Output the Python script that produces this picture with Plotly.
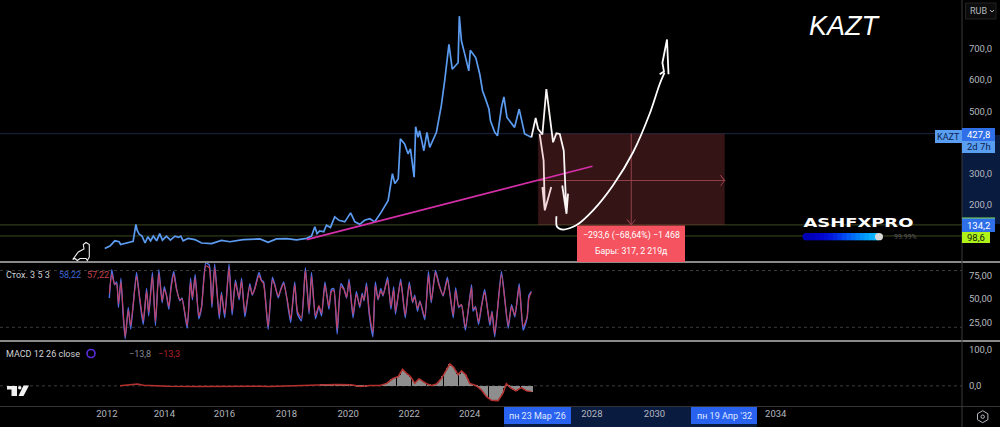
import plotly.graph_objects as go

# Price pane (KAZT, weekly close)
price_years = [2011.93, 2012.10, 2012.26, 2012.40, 2012.45, 2012.59, 2012.86, 2012.95, 2012.99, 2013.06,
               2013.15, 2013.25, 2013.34, 2013.43, 2013.52, 2013.63, 2013.73, 2013.82, 2013.95, 2014.08,
               2014.23, 2014.35, 2014.42, 2014.50, 2014.66, 2014.88, 2015.10, 2015.43, 2015.75, 2016.03,
               2016.46, 2017.01, 2017.28, 2017.55, 2017.88, 2018.21, 2018.54, 2018.70, 2018.81, 2018.88,
               2018.97, 2019.10, 2019.19, 2019.32, 2019.46, 2019.60, 2019.79, 2019.98, 2020.12, 2020.28,
               2020.44, 2020.61, 2020.77, 2020.99, 2021.21, 2021.35, 2021.43, 2021.54, 2021.61, 2021.75,
               2021.86, 2021.94, 2022.06, 2022.11, 2022.19, 2022.24, 2022.38, 2022.48, 2022.57, 2022.79,
               2022.95, 2023.06, 2023.14, 2023.20, 2023.31, 2023.50, 2023.54, 2023.61, 2023.72, 2023.85,
               2023.90, 2024.08, 2024.21, 2024.30, 2024.40, 2024.51, 2024.56, 2024.70, 2024.79, 2024.92,
               2025.00, 2025.10, 2025.35, 2025.50, 2025.68, 2025.90]
price_values = [58, 66, 83, 80, 71, 74, 81, 136, 117, 104,
                98, 76, 96, 83, 98, 83, 106, 85, 98, 85,
                98, 94, 98, 83, 91, 87, 76, 74, 84, 80,
                87, 89, 78, 89, 90, 86, 91, 98, 128, 106,
                115, 112, 133, 126, 160, 149, 144, 173, 144, 136,
                149, 154, 144, 176, 213, 299, 267, 283, 411, 395,
                363, 379, 288, 450, 416, 437, 373, 432, 384, 432,
                518, 598, 672, 715, 635, 656, 806, 726, 683, 630,
                696, 672, 619, 566, 539, 507, 469, 432, 421, 512,
                546, 480, 448, 507, 427, 416]

price_ticks = [200, 300, 500, 600, 700]
price_labels = ["200,0", "300,0", "500,0", "600,0", "700,0"]
last_price = 427.8
level_top = 134.2
level_low = 98.6

# Trendline and hand drawn arrows
trend_years = [2018.54, 2027.90]
trend_values = [87, 323]
sketch1_years = [2025.90, 2026.04, 2026.12, 2026.26, 2026.39, 2026.50, 2026.61, 2026.72, 2026.83, 2026.96, 2027.02, 2027.05, 2026.91, 2027.05, 2027.10]
sketch1_values = [416, 478, 443, 425, 571, 491, 400, 429, 427, 373, 256, 170, 261, 170, 235]
sketch2_years = [2026.17, 2026.30, 2026.34, 2026.26, 2026.34, 2026.55]
sketch2_values = [427, 341, 181, 256, 181, 256]
sketch3_years = [2026.72, 2026.74, 2026.94, 2027.37, 2027.92, 2028.57, 2029.23, 2029.77, 2030.10, 2030.26]
sketch3_values = [162, 128, 119, 133, 181, 261, 368, 491, 587, 624]
head3_years = [2030.10, 2030.24, 2030.19, 2030.34, 2030.39]
head3_values = [619, 628, 656, 731, 619]

# Measure tool
measure_start = 2026.12
measure_end = 2032.23
measure_mid_year = 2029.17
measure_mid_value = 277

# Stochastic pane
stoch_years = [2012.08, 2012.16, 2012.25, 2012.32, 2012.38, 2012.46, 2012.53, 2012.60, 2012.70, 2012.78,
               2012.97, 2013.08, 2013.19, 2013.30, 2013.37, 2013.49, 2013.59, 2013.70, 2013.81, 2013.88,
               2013.95, 2014.03, 2014.10, 2014.19, 2014.28, 2014.39, 2014.46, 2014.63, 2014.74, 2014.80,
               2014.89, 2015.01, 2015.10, 2015.24, 2015.35, 2015.44, 2015.53, 2015.68, 2015.75, 2015.86,
               2016.00, 2016.10, 2016.21, 2016.33, 2016.41, 2016.52, 2016.68, 2016.76, 2016.84, 2016.98,
               2017.06, 2017.13, 2017.28, 2017.42, 2017.50, 2017.61, 2017.70, 2017.79, 2017.90, 2018.02,
               2018.15, 2018.24, 2018.37, 2018.50, 2018.62, 2018.70, 2018.83, 2018.94, 2019.03, 2019.14,
               2019.27, 2019.35, 2019.43, 2019.54, 2019.66, 2019.76, 2019.85, 2019.93, 2020.06, 2020.17,
               2020.28, 2020.36, 2020.42, 2020.50, 2020.59, 2020.71, 2020.79, 2020.88, 2020.97, 2021.04,
               2021.19, 2021.30, 2021.39, 2021.45, 2021.62, 2021.77, 2021.90, 2022.01, 2022.08, 2022.17,
               2022.25, 2022.41, 2022.53, 2022.62, 2022.76, 2022.88, 2023.01, 2023.15, 2023.34, 2023.42,
               2023.52, 2023.61, 2023.74, 2023.94, 2023.99, 2024.07, 2024.17, 2024.26, 2024.37, 2024.54,
               2024.61, 2024.70, 2024.92, 2025.14, 2025.25, 2025.36, 2025.50, 2025.63, 2025.76, 2025.82, 2025.90]
stoch_k = [51, 81, 65, 68, 41, 72, 34, 8, 41, 18,
           78, 48, 23, 61, 32, 78, 22, 81, 46, 63,
           54, 39, 63, 79, 61, 48, 51, 19, 72, 49,
           76, 29, 41, 88, 86, 41, 87, 29, 57, 30,
           87, 33, 70, 49, 72, 31, 66, 54, 61, 78,
           70, 68, 18, 73, 65, 51, 61, 68, 49, 25,
           68, 34, 27, 83, 34, 78, 29, 42, 32, 68,
           39, 60, 61, 13, 66, 61, 51, 71, 30, 58,
           41, 56, 48, 67, 34, 10, 68, 49, 61, 53,
           73, 39, 63, 34, 71, 30, 68, 46, 54, 37,
           48, 28, 79, 46, 80, 65, 53, 73, 30, 62,
           41, 44, 17, 65, 37, 42, 23, 41, 60, 22,
           37, 10, 79, 19, 44, 31, 66, 17, 30, 54, 58]
stoch_d = [56, 76, 66, 66, 45, 68, 38, 10, 38, 22,
           74, 50, 27, 58, 36, 74, 26, 77, 48, 60,
           54, 42, 61, 76, 60, 49, 50, 22, 68, 51,
           72, 32, 42, 85, 83, 45, 83, 33, 55, 34,
           83, 37, 67, 51, 69, 35, 64, 55, 60, 75,
           69, 66, 21, 70, 64, 53, 60, 66, 50, 29,
           65, 37, 30, 80, 37, 74, 32, 43, 35, 65,
           42, 58, 59, 18, 63, 60, 52, 68, 34, 55,
           43, 54, 49, 64, 37, 15, 64, 50, 59, 54,
           70, 42, 60, 37, 68, 33, 65, 47, 52, 40,
           47, 31, 75, 48, 78, 64, 54, 70, 33, 59,
           42, 44, 20, 62, 40, 41, 26, 41, 57, 25,
           36, 13, 76, 22, 42, 33, 63, 21, 31, 51, 57]
stoch_ticks = [25, 50, 75]
stoch_labels = ["25,00", "50,00", "75,00"]

# MACD pane
macd_years = [2012.43, 2013.00, 2013.20, 2014.00, 2015.00, 2016.00, 2017.00, 2017.30, 2018.00, 2018.70,
              2019.00, 2019.50, 2020.00, 2020.30, 2020.61, 2020.94, 2021.16, 2021.37, 2021.54, 2021.68,
              2021.81, 2021.94, 2022.08, 2022.22, 2022.36, 2022.49, 2022.63, 2022.79, 2022.96, 2023.10,
              2023.23, 2023.36, 2023.50, 2023.61, 2023.75, 2023.88, 2024.08, 2024.26, 2024.43, 2024.59,
              2024.81, 2024.97, 2025.08, 2025.21, 2025.39, 2025.57, 2025.74, 2025.90]
macd_signal = [0, 5, 2, -1, -2, -1, -1, -2, 0, 1,
               3, 4, 3, -2, 1, 1, 7, 21, 26, 46,
               35, 26, 7, 20, 12, 5, 1, 5, 21, 44,
               61, 51, 31, 42, 31, 7, 1, -11, -30, -40,
               -41, -20, 6, -5, -14, -5, -14, -16]
hist_years = [2019.00, 2019.07, 2019.14, 2019.21, 2019.28, 2019.35, 2019.42, 2019.49, 2019.56, 2019.63,
              2019.70, 2019.77, 2019.84, 2019.91, 2019.98, 2020.05, 2020.12, 2020.19, 2020.26, 2020.33,
              2020.40, 2020.47, 2020.54, 2020.61, 2020.68, 2020.75, 2020.82, 2020.89, 2020.96, 2021.03,
              2021.10, 2021.17, 2021.24, 2021.31, 2021.38, 2021.45, 2021.52, 2021.59, 2021.66, 2021.73,
              2021.80, 2021.87, 2021.94, 2022.01, 2022.08, 2022.15, 2022.22, 2022.29, 2022.36, 2022.43,
              2022.50, 2022.57, 2022.64, 2022.71, 2022.78, 2022.85, 2022.92, 2022.99, 2023.06, 2023.13,
              2023.20, 2023.27, 2023.34, 2023.41, 2023.48, 2023.55, 2023.62, 2023.69, 2023.76, 2023.83,
              2023.90, 2023.97, 2024.04, 2024.11, 2024.18, 2024.25, 2024.32, 2024.39, 2024.46, 2024.53,
              2024.60, 2024.67, 2024.74, 2024.81, 2024.88, 2024.95, 2025.02, 2025.09, 2025.16, 2025.23,
              2025.30, 2025.37, 2025.44, 2025.51, 2025.58, 2025.65, 2025.72, 2025.79, 2025.86, 2025.93]
hist_values = [3, 3, 4, 4, 4, 5, 4, 4, 3, 3,
               3, 4, 3, 3, 2, 2, 1, -1, -3, -3,
               -2, -1, 0, 0, 0, 1, 1, 1, 2, 3,
               5, 7, 12, 18, 22, 23, 26, 30, 44, 42,
               36, 31, 26, 17, 8, 14, 20, 16, 12, 8,
               5, 3, 2, 3, 5, 9, 16, 27, 38, 49,
               60, 56, 52, 44, 34, 32, 42, 36, 30, 18,
               7, 3, 2, -2, -6, -11, -18, -25, -32, -37,
               -41, -42, -43, -42, -34, -24, -6, 4, -2, -7,
               -11, -14, -13, -8, -6, -9, -13, -15, -16, -16]
macd_ticks = [0, 100]
macd_labels = ["0,0", "100,0"]

# the source scale snaps its year labels, so these sit where the picture has them
time_ticks = [2012.0, 2013.88, 2015.85, 2017.88, 2019.9, 2021.9, 2023.88, 2027.88, 2029.93, 2033.9]
time_labels = ["2012", "2014", "2016", "2018", "2020", "2022", "2024", "2028", "2030", "2034"]

GRAD_COLORS = ["#0000b4", "#0000bc", "#0002c4", "#0006cc", "#000ed4", "#0018dc", "#0026e4", "#0036ea",
               "#0048f0", "#005af4", "#006cf6", "#007ef8", "#0090fa", "#00a0fc", "#08aefe", "#10b8ff"]
FONT = "Roboto"
AXIS_GREY = "#b4b7bf"
BLUE = "#2f6fe8"


def px(x):
    return x / 1000


def py(y):
    return 1 - y / 427


def label(fig, x, y, text, color=AXIS_GREY, size=9.5, anchor="left", family=FONT, **kw):
    fig.add_annotation(xref="paper", yref="paper", x=px(x), y=py(y), text=text, showarrow=False,
                       xanchor=anchor, yanchor="middle", font=dict(family=family, size=size, color=color), **kw)


def box(fig, x0, y0, x1, y1, fill, line=None, layer="above"):
    fig.add_shape(type="rect", xref="paper", yref="paper", x0=px(x0), x1=px(x1), y0=py(y0), y1=py(y1),
                  fillcolor=fill, line=dict(color=line or fill, width=1 if line else 0), layer=layer)


def pixel_path(points, close=False):
    d = "M " + " L ".join(f"{px(a):.4f},{py(b):.4f}" for a, b in points)
    return d + (" Z" if close else "")


fig = go.Figure()

# measure tool background first
fig.add_shape(type="rect", x0=measure_start, x1=measure_end, y0=level_top, y1=last_price, xref="x", yref="y",
              fillcolor="rgba(140,52,58,0.38)", line=dict(width=0), layer="below")
for val, col in [(last_price, "#1c2740"), (level_top, "#3d4a22"), (level_low, "#3d4a22")]:
    fig.add_shape(type="line", xref="x domain", yref="y", x0=0, x1=1, y0=val, y1=val,
                  line=dict(color=col, width=1), layer="below")
for ref, val in [("y2", 80), ("y2", 20), ("y3", 0)]:
    fig.add_shape(type="line", xref="x domain", yref=ref, x0=0, x1=1, y0=val, y1=val,
                  line=dict(color="#3c3c3c", width=1, dash="dot"), layer="below")

fig.add_trace(go.Scatter(x=[measure_start, measure_end, measure_end - 0.14, measure_end, measure_end - 0.14],
                         y=[measure_mid_value, measure_mid_value, measure_mid_value + 17, measure_mid_value, measure_mid_value - 17],
                         mode="lines", line=dict(color="#93404a", width=1)))
fig.add_trace(go.Scatter(x=[measure_mid_year, measure_mid_year, measure_mid_year - 0.13, measure_mid_year, measure_mid_year + 0.13],
                         y=[last_price, level_top, level_top + 17, level_top, level_top + 17],
                         mode="lines", line=dict(color="#93404a", width=1)))

fig.add_trace(go.Scatter(x=price_years, y=price_values, mode="lines", line=dict(color="#5b9bf0", width=1.7)))
fig.add_trace(go.Scatter(x=trend_years, y=trend_values, mode="lines", line=dict(color="#d42fa8", width=1.7)))
fig.add_trace(go.Scatter(x=sketch2_years, y=sketch2_values, mode="lines", line=dict(color="#f3d9dc", width=1.8)))
fig.add_trace(go.Scatter(x=sketch1_years, y=sketch1_values, mode="lines", line=dict(color="#fbf4f4", width=1.8)))
fig.add_trace(go.Scatter(x=sketch3_years, y=sketch3_values, mode="lines",
                         line=dict(color="#ffffff", width=1.8, shape="spline", smoothing=0.8)))
fig.add_trace(go.Scatter(x=head3_years, y=head3_values, mode="lines", line=dict(color="#ffffff", width=1.8)))

# stochastic
fig.add_trace(go.Scatter(x=stoch_years, y=stoch_k, yaxis="y2", mode="lines",
                         line=dict(color="#4f6fe6", width=1.4, shape="spline", smoothing=0.5)))
fig.add_trace(go.Scatter(x=stoch_years, y=stoch_d, yaxis="y2", mode="lines",
                         line=dict(color="#c8405f", width=1.1, shape="spline", smoothing=0.5)))

# macd
fig.add_trace(go.Bar(x=hist_years, y=hist_values, yaxis="y3", width=0.036, marker=dict(color="#8e8e8e", line=dict(width=0))))
fig.add_trace(go.Scatter(x=macd_years, y=macd_signal, yaxis="y3", mode="lines", line=dict(color="#b5312f", width=1.5)))

# right and bottom scale highlights
box(fig, 962, 135, 1000, 224, "#0a1b40", layer="below")
box(fig, 504, 407, 757, 427, "#0a1b40", layer="below")

# pane separators
for y in (262, 341):
    fig.add_shape(type="line", xref="paper", yref="paper", x0=0, x1=1, y0=py(y), y1=py(y), line=dict(color="#8a8a8a", width=2))
fig.add_shape(type="line", xref="paper", yref="paper", x0=0, x1=1, y0=py(406.5), y1=py(406.5), line=dict(color="#333333", width=1))
fig.add_shape(type="line", xref="paper", yref="paper", x0=px(962), x1=px(962), y0=0, y1=1, line=dict(color="#3a3a3a", width=1))

# top corner
fig.add_shape(type="rect", xref="paper", yref="paper", x0=px(965.5), x1=px(996), y0=py(3), y1=py(19),
              fillcolor="#0c0c0c", line=dict(color="#222222", width=1))
label(fig, 968, 11, "RUB", size=9)
fig.add_shape(type="path", xref="paper", yref="paper", path=pixel_path([(990, 10), (992, 12), (994, 10)]),
              line=dict(color=AXIS_GREY, width=1))

label(fig, 845, 26, "<i>KAZT</i>", color="#ffffff", size=27, anchor="center", family="Liberation Sans")

# price scale tags
box(fig, 935, 130, 962, 143, "#5a9ef2")
label(fig, 948.5, 136.5, "KAZT", color="#0a2350", size=9, anchor="center")
box(fig, 962, 128, 995, 141, BLUE)
label(fig, 978.5, 134.5, "427,8", color="#ffffff", anchor="center")
box(fig, 962, 141, 995, 153, "#5a9ef2")
label(fig, 978.5, 147, "2d 7h", color="#0a2350", anchor="center")
box(fig, 962, 218, 995, 232, BLUE)
fig.add_shape(type="line", xref="paper", yref="paper", x0=px(962), x1=px(995), y0=py(218), y1=py(218), line=dict(color="#7fe05a", width=1))
label(fig, 978.5, 225, "134,2", color="#ffffff", anchor="center")
box(fig, 962, 232, 990, 243, "#aef21a")
label(fig, 976, 237.5, "98,6", color="#10200a", anchor="center")

# measure result box
box(fig, 577, 225.5, 685, 262, "#f4535f")
label(fig, 631, 236, "−293,6 (−68,64%) −1 468", color="#ffffff", size=8.8, anchor="center")
label(fig, 631, 251, "Бары: 317, 2 219д", color="#ffffff", size=8.8, anchor="center")

# watermark block, the text gets stretched to the width of the bar block after drawing
label(fig, 858, 222.5, "<b>ASHFXPRO</b>", color="#ffffff", size=12.5, anchor="center", family="DejaVu Sans")
step = 72 / len(GRAD_COLORS)
fig.add_shape(type="circle", xref="paper", yref="paper", x0=px(802.5), x1=px(809.5), y0=py(233), y1=py(240.3),
              fillcolor=GRAD_COLORS[0], line=dict(width=0))
for i, col in enumerate(GRAD_COLORS):
    box(fig, 806 + i * step, 233, 806 + (i + 1) * step + 0.5, 240.3, col)
fig.add_shape(type="circle", xref="paper", yref="paper", x0=px(875), x1=px(883), y0=py(233), y1=py(240.3),
              fillcolor="#d8d8d8", line=dict(width=0))
label(fig, 892, 237, "99.99%", color="#5a5a5a", size=7)

# pane legends
label(fig, 4, 274.5, "Стох. 3 5 3", color="#d0d2d8", size=9)
label(fig, 57, 274.5, "58,22", color="#3f66d8", size=9)
label(fig, 85, 274.5, "57,22", color="#c8404f", size=9)
label(fig, 4, 353.5, "MACD 12 26 close", color="#d0d2d8", size=9)
fig.add_shape(type="circle", xref="paper", yref="paper", x0=px(87), x1=px(95), y0=py(349.5), y1=py(357.5),
              line=dict(color="#5a2ee0", width=1.6))
label(fig, 127, 353.5, "−13,8", color="#8a8d95", size=9)
label(fig, 156, 353.5, "−13,3", color="#b3202c", size=9)

# selected dates on the time scale
box(fig, 504, 407, 571, 424, "#2a62f0")
label(fig, 537.5, 416, "пн 23 Мар '26", color="#dfe8ff", size=9, anchor="center")
box(fig, 691, 407, 757, 424, "#2a62f0")
label(fig, 724, 416, "пн 19 Апр '32", color="#dfe8ff", size=9, anchor="center")

# little drawings: dino, TV logo, settings gear
dino = [(72.7, 259.5), (78.3, 252), (84, 249), (83.3, 244.5), (86, 242.5), (89.3, 244.5), (89.3, 257), (87.3, 260.5),
        (86, 258.5), (80, 258.5), (77.3, 260.5), (75, 258.5), (72.7, 259.5)]
fig.add_shape(type="path", xref="paper", yref="paper", path=pixel_path(dino), line=dict(color="#f0f0f0", width=1.1))
tv_shapes = [
    [(7, 386), (17, 386), (17, 396), (11.5, 396), (11.5, 389.5), (7, 389.5)],
    [(23.5, 385.5), (29, 385.5), (23.5, 396), (18.5, 396)],
]
for pts in tv_shapes:
    fig.add_shape(type="path", xref="paper", yref="paper", path=pixel_path(pts, close=True),
                  fillcolor="#f2f2f2", line=dict(width=0))
fig.add_shape(type="circle", xref="paper", yref="paper", x0=px(18), x1=px(21.5), y0=py(386), y1=py(389.5),
              fillcolor="#f2f2f2", line=dict(width=0))
gear = [(982.7, 410.7), (987.9, 413.7), (987.9, 419.7), (982.7, 422.7), (977.5, 419.7), (977.5, 413.7)]
fig.add_shape(type="path", xref="paper", yref="paper", path=pixel_path(gear, close=True), line=dict(color=AXIS_GREY, width=1))
fig.add_shape(type="circle", xref="paper", yref="paper", x0=px(981), x1=px(984.4), y0=py(415), y1=py(418.4),
              line=dict(color=AXIS_GREY, width=1))

tick_style = dict(showgrid=False, zeroline=False, showline=False, ticklen=4, tickcolor="rgba(0,0,0,0)", ticks="outside",
                  side="right", anchor="x", tickmode="array", tickfont=dict(family=FONT, size=9.5, color=AXIS_GREY))

fig.update_layout(
    width=1000, height=427, margin=dict(l=0, r=0, t=0, b=0),
    paper_bgcolor="#000000", plot_bgcolor="#000000", showlegend=False, bargap=0,
    xaxis=dict(domain=[0, 0.962], range=[2008.5, 2040.0], anchor="y3", showgrid=False, zeroline=False, showline=False,
               tickmode="array", tickvals=time_ticks, ticktext=time_labels, ticks="",
               tickfont=dict(family=FONT, size=9.5, color=AXIS_GREY)),
    yaxis=dict(domain=[py(261), 1], range=[18, 858], tickvals=price_ticks, ticktext=price_labels, **tick_style),
    yaxis2=dict(domain=[py(340), py(263)], range=[6.6, 88], tickvals=stoch_ticks, ticktext=stoch_labels, **tick_style),
    yaxis3=dict(domain=[py(406), py(342)], range=[-56, 122], tickvals=macd_ticks, ticktext=macd_labels, **tick_style),
)

stretch_js = """
document.body.style.margin='0';document.body.style.background='#000';document.body.style.overflow='hidden';
document.querySelectorAll('.annotation-text').forEach(function (t) {
  if (t.textContent === 'ASHFXPRO') {
    t.querySelectorAll('tspan').forEach(function (s) { s.setAttribute('textLength', '110'); s.setAttribute('lengthAdjust', 'spacingAndGlyphs'); });
  }
});
"""
fig.write_html("out.html", config=dict(displayModeBar=False), post_script=stretch_js)
